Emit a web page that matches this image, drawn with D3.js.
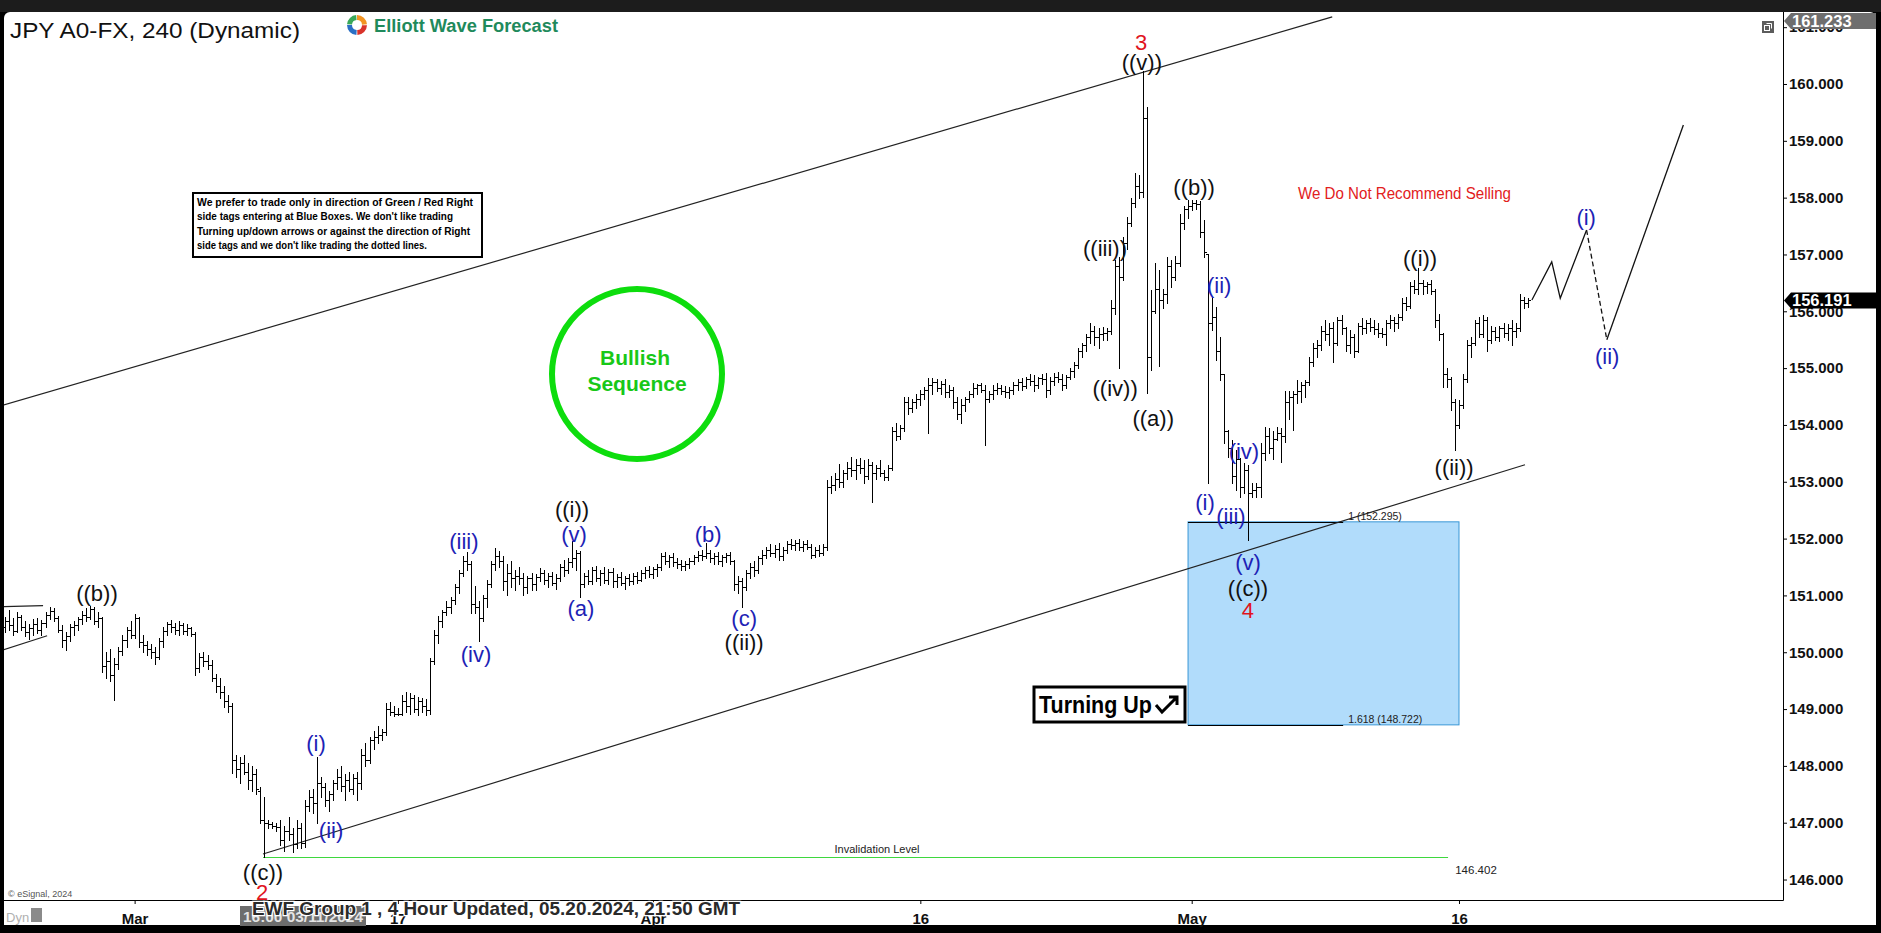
<!DOCTYPE html>
<html><head><meta charset="utf-8">
<script src="https://cdn.jsdelivr.net/npm/d3@7"></script>
<style>
html,body{margin:0;padding:0;background:#000;overflow:hidden}
svg{display:block}
text{font-family:"Liberation Sans",Arial,sans-serif}
</style></head><body>
<svg id="c" width="1881" height="933"></svg>
<script>
// ---------- DATA ----------
// 4-hour bars: [open, high, low, close]
const priceBars = [
[150.45,150.62,150.36,150.55],[150.55,150.74,150.40,150.48],[150.48,150.60,150.30,150.38],[150.38,150.70,150.35,150.62],
[150.62,150.66,150.40,150.45],[150.45,150.55,150.28,150.35],[150.35,150.50,150.24,150.42],[150.42,150.58,150.30,150.50],
[150.50,150.60,150.34,150.40],[150.40,150.56,150.30,150.52],[150.52,150.70,150.45,150.66],[150.66,150.80,150.58,150.72],
[150.72,150.77,150.55,150.60],[150.60,150.64,150.35,150.40],[150.40,150.48,150.10,150.22],[150.22,150.35,150.04,150.28],
[150.28,150.50,150.20,150.44],[150.44,150.55,150.30,150.48],[150.48,150.62,150.40,150.58],[150.58,150.72,150.50,150.66],
[150.66,150.78,150.55,150.62],[150.62,150.82,150.58,150.76],[150.76,150.80,150.50,150.55],[150.55,150.70,150.45,150.60],
[150.60,150.62,149.66,149.75],[149.75,150.00,149.55,149.85],[149.85,150.05,149.50,149.60],[149.60,149.90,149.16,149.80],
[149.80,150.10,149.70,150.02],[150.02,150.30,149.95,150.22],[150.22,150.45,150.10,150.40],[150.40,150.55,150.25,150.30],
[150.30,150.68,150.25,150.60],[150.60,150.62,150.10,150.18],[150.18,150.30,150.00,150.12],[150.12,150.20,149.95,150.05],
[150.05,150.15,149.90,150.00],[150.00,150.10,149.80,149.92],[149.92,150.25,149.88,150.20],[150.20,150.45,150.10,150.38],
[150.38,150.54,150.30,150.50],[150.50,150.56,150.35,150.45],[150.45,150.52,150.32,150.40],[150.40,150.55,150.30,150.48],
[150.48,150.52,150.32,150.38],[150.38,150.50,150.30,150.42],[150.42,150.45,150.28,150.32],[150.32,150.35,149.60,149.72],
[149.72,149.98,149.65,149.92],[149.92,150.00,149.75,149.85],[149.85,149.95,149.70,149.78],[149.78,149.86,149.50,149.55],
[149.55,149.62,149.30,149.40],[149.40,149.55,149.20,149.30],[149.30,149.40,149.04,149.15],[149.15,149.25,148.95,149.05],
[149.05,149.10,147.87,148.10],[148.10,148.20,147.80,147.95],[147.95,148.15,147.70,148.05],[148.05,148.20,147.85,147.90],
[147.90,148.05,147.60,147.75],[147.75,148.00,147.55,147.85],[147.85,147.95,147.50,147.60],[147.55,147.62,147.00,147.05],
[147.05,147.45,146.40,147.00],[147.00,147.05,146.90,146.98],[146.98,147.02,146.90,146.95],[146.95,147.00,146.85,146.92],
[146.92,147.05,146.60,146.70],[146.70,146.95,146.50,146.85],[146.85,147.10,146.70,146.80],[146.80,146.90,146.48,146.62],
[146.62,147.05,146.55,146.90],[146.90,147.00,146.55,146.65],[146.65,147.40,146.58,147.30],[147.30,147.57,147.20,147.45],
[147.45,147.60,147.17,147.35],[147.35,148.15,147.00,147.70],[147.70,147.80,147.45,147.62],[147.62,147.70,147.30,147.40],
[147.40,147.55,147.20,147.50],[147.50,147.75,147.40,147.70],[147.70,147.95,147.60,147.80],[147.80,148.00,147.55,147.65],
[147.65,147.85,147.40,147.75],[147.75,147.90,147.55,147.60],[147.60,147.85,147.50,147.78],[147.78,147.90,147.40,147.70],
[147.70,148.30,147.60,148.20],[148.20,148.40,148.00,148.10],[148.10,148.50,148.05,148.45],[148.45,148.62,148.30,148.50],
[148.50,148.70,148.40,148.55],[148.55,148.65,148.45,148.60],[148.60,149.10,148.55,149.00],[149.00,149.13,148.90,148.95],
[148.95,149.05,148.88,148.92],[148.92,149.02,148.90,148.92],[148.92,149.25,148.90,149.15],[149.15,149.30,148.95,149.05],
[149.05,149.28,148.92,149.20],[149.20,149.25,148.95,149.00],[149.00,149.22,148.90,149.15],[149.15,149.20,148.95,149.05],
[149.05,149.18,148.90,148.98],[148.98,149.90,148.92,149.85],[149.85,150.40,149.80,150.30],[150.30,150.63,150.16,150.55],
[150.55,150.75,150.45,150.70],[150.70,150.90,150.65,150.80],[150.80,150.98,150.69,150.92],[150.92,151.20,150.85,151.15],
[151.15,151.45,151.05,151.40],[151.40,151.70,151.35,151.60],[151.60,151.77,151.45,151.55],[151.55,151.60,150.69,150.85],
[150.85,151.16,150.69,150.80],[150.80,150.90,150.20,150.60],[150.60,151.00,150.55,150.95],[150.95,151.27,150.80,151.20],
[151.20,151.60,151.15,151.55],[151.55,151.83,151.45,151.70],[151.70,151.78,151.50,151.60],[151.60,151.70,151.10,151.25],
[151.25,151.55,151.00,151.40],[151.40,151.60,151.15,151.30],[151.30,151.45,151.10,151.35],[151.35,151.50,151.20,151.30],
[151.30,151.40,151.00,151.15],[151.15,151.35,151.05,151.30],[151.30,151.40,151.10,151.20],[151.20,151.38,151.10,151.32],
[151.32,151.48,151.25,151.40],[151.40,151.45,151.20,151.28],[151.28,151.40,151.15,151.35],[151.35,151.42,151.18,151.22],
[151.22,151.38,151.12,151.30],[151.30,151.55,151.25,151.50],[151.50,151.62,151.35,151.45],[151.45,151.65,151.40,151.58],
[151.58,151.95,151.50,151.65],[151.65,151.80,151.45,151.75],[151.75,151.78,150.98,151.20],[151.20,151.40,151.15,151.35],
[151.35,151.45,151.20,151.25],[151.25,151.50,151.20,151.45],[151.45,151.52,151.25,151.30],[151.30,151.45,151.18,151.40],
[151.40,151.50,151.22,151.28],[151.28,151.46,151.20,151.42],[151.42,151.48,151.15,151.25],[151.25,151.38,151.15,151.32],
[151.32,151.42,151.18,151.22],[151.22,151.35,151.12,151.30],[151.30,151.38,151.18,151.25],[151.25,151.40,151.20,151.35],
[151.35,151.42,151.22,151.28],[151.28,151.45,151.25,151.40],[151.40,151.50,151.30,151.45],[151.45,151.52,151.32,151.38],
[151.38,151.50,151.30,151.46],[151.46,151.55,151.35,151.50],[151.50,151.74,151.45,151.70],[151.70,151.76,151.55,151.60],
[151.60,151.72,151.50,151.68],[151.68,151.74,151.52,151.58],[151.58,151.66,151.48,151.55],[151.55,151.62,151.45,151.52],
[151.52,151.60,151.45,151.55],[151.55,151.65,151.48,151.60],[151.60,151.72,151.55,151.68],[151.68,151.78,151.60,151.72],
[151.72,151.80,151.62,151.70],[151.70,151.92,151.65,151.75],[151.75,151.80,151.58,151.65],[151.65,151.75,151.55,151.70],
[151.70,151.76,151.55,151.60],[151.60,151.72,151.52,151.68],[151.68,151.75,151.58,151.72],[151.72,151.77,151.55,151.60],
[151.60,151.62,151.10,151.20],[151.20,151.35,151.05,151.25],[151.25,151.30,150.80,151.15],[151.15,151.45,151.10,151.40],
[151.40,151.57,151.30,151.50],[151.50,151.60,151.35,151.45],[151.45,151.70,151.40,151.65],[151.65,151.80,151.55,151.72],
[151.72,151.85,151.65,151.80],[151.80,151.90,151.70,151.75],[151.75,151.88,151.68,151.82],[151.82,151.92,151.62,151.70],
[151.70,151.85,151.62,151.80],[151.80,151.95,151.75,151.90],[151.90,152.00,151.82,151.88],[151.88,151.98,151.80,151.92],
[151.92,152.00,151.80,151.85],[151.85,151.95,151.78,151.90],[151.90,151.98,151.82,151.86],[151.86,151.90,151.65,151.72],
[151.72,151.85,151.68,151.80],[151.80,151.88,151.70,151.75],[151.75,151.90,151.72,151.85],[151.85,153.03,151.80,152.90],
[152.90,153.10,152.80,152.95],[152.95,153.15,152.85,153.05],[153.05,153.32,152.90,153.00],[153.00,153.20,152.90,153.15],
[153.15,153.35,153.05,153.25],[153.25,153.44,153.10,153.20],[153.20,153.40,153.05,153.30],[153.30,153.42,153.15,153.25],
[153.25,153.38,152.97,153.10],[153.10,153.40,153.05,153.30],[153.30,153.35,152.65,153.15],[153.15,153.30,153.05,153.25],
[153.25,153.38,153.10,153.15],[153.15,153.20,153.03,153.08],[153.08,153.30,153.03,153.25],[153.25,153.97,153.20,153.90],
[153.90,154.03,153.74,153.80],[153.80,154.00,153.75,153.95],[153.95,154.50,153.90,154.40],[154.40,154.50,154.20,154.30],
[154.30,154.45,154.22,154.40],[154.40,154.55,154.30,154.45],[154.45,154.62,154.35,154.55],[154.55,154.67,154.45,154.62],
[154.62,154.82,153.85,154.70],[154.70,154.82,154.55,154.75],[154.75,154.80,154.60,154.65],[154.65,154.78,154.55,154.72],
[154.72,154.80,154.50,154.58],[154.58,154.70,154.50,154.62],[154.62,154.66,154.30,154.40],[154.40,154.50,154.10,154.20],
[154.20,154.45,154.03,154.35],[154.35,154.50,154.25,154.45],[154.45,154.60,154.40,154.55],[154.55,154.73,154.50,154.65],
[154.65,154.72,154.55,154.70],[154.70,154.73,154.58,154.62],[154.62,154.70,153.65,154.45],[154.45,154.60,154.40,154.55],
[154.55,154.70,154.45,154.62],[154.62,154.73,154.55,154.65],[154.65,154.70,154.55,154.60],[154.60,154.68,154.50,154.58],
[154.58,154.66,154.48,154.62],[154.62,154.75,154.55,154.70],[154.70,154.80,154.62,154.75],[154.75,154.82,154.62,154.68],
[154.68,154.85,154.65,154.80],[154.80,154.90,154.70,154.78],[154.78,154.88,154.60,154.70],[154.70,154.85,154.65,154.82],
[154.82,154.90,154.72,154.80],[154.80,154.92,154.50,154.62],[154.62,154.85,154.55,154.78],[154.78,154.92,154.70,154.85],
[154.85,154.94,154.75,154.80],[154.80,154.90,154.62,154.70],[154.70,154.88,154.65,154.85],[154.85,155.00,154.80,154.95],
[154.95,155.10,154.85,155.05],[155.05,155.35,155.00,155.30],[155.30,155.45,155.20,155.40],[155.40,155.60,155.30,155.55],
[155.55,155.79,155.45,155.65],[155.65,155.75,155.40,155.55],[155.55,155.70,155.35,155.60],[155.60,155.72,155.50,155.62],
[155.62,155.70,155.50,155.65],[155.65,156.20,155.60,156.05],[156.05,156.90,155.95,156.80],[156.80,156.95,155.00,156.60],
[156.60,157.30,156.55,157.20],[157.20,157.66,157.10,157.55],[157.55,158.00,157.50,157.90],[157.90,158.43,157.84,158.20],
[158.20,158.40,158.00,158.10],[158.10,160.22,158.02,159.40],[159.40,159.60,154.56,155.20],[155.20,156.38,154.97,156.00],
[156.00,156.85,155.97,156.40],[156.40,156.73,155.03,156.20],[156.20,156.40,156.05,156.30],[156.30,156.96,156.14,156.80],
[156.80,156.90,156.43,156.60],[156.60,156.97,156.55,156.85],[156.85,157.72,156.80,157.55],[157.55,157.85,157.45,157.80],
[157.80,157.95,157.65,157.85],[157.85,157.96,157.78,157.90],[157.90,157.96,157.80,157.88],[157.88,157.94,157.30,157.40],
[157.40,157.60,156.96,157.05],[157.00,157.00,152.97,155.80],[155.80,156.26,155.67,155.90],[155.90,156.08,155.14,155.30],
[155.30,155.55,154.79,154.90],[154.90,154.90,153.68,153.90],[153.90,153.91,153.44,153.60],[153.60,153.74,152.97,153.10],
[153.10,153.56,152.86,153.40],[153.40,153.42,152.74,152.90],[152.90,153.33,152.80,153.20],[153.20,153.30,151.98,152.80],
[152.80,152.97,152.74,152.85],[152.85,152.97,152.74,152.90],[152.90,153.68,152.74,153.50],[153.50,153.97,153.38,153.80],
[153.80,153.95,153.50,153.60],[153.60,153.90,153.40,153.75],[153.75,153.97,153.74,153.85],[153.85,153.95,153.35,153.80],
[153.80,154.60,153.70,154.40],[154.40,154.60,154.10,154.50],[154.50,154.60,153.91,154.55],[154.55,154.79,154.38,154.60],
[154.60,154.75,154.40,154.70],[154.70,154.79,154.50,154.75],[154.75,155.20,154.70,155.10],[155.10,155.44,155.03,155.35],
[155.35,155.50,155.20,155.40],[155.40,155.75,155.32,155.65],[155.65,155.85,155.50,155.60],[155.60,155.80,155.40,155.70],
[155.70,155.82,155.10,155.45],[155.45,155.90,155.40,155.85],[155.85,155.93,155.60,155.70],[155.70,155.72,155.30,155.40],
[155.40,155.67,155.26,155.55],[155.55,155.60,155.20,155.30],[155.30,155.80,155.28,155.75],[155.75,155.88,155.60,155.70],
[155.70,155.85,155.62,155.80],[155.80,155.88,155.65,155.72],[155.72,155.85,155.60,155.68],[155.68,155.80,155.55,155.62],
[155.62,155.70,155.55,155.60],[155.60,155.85,155.40,155.80],[155.80,155.93,155.70,155.85],[155.85,155.90,155.65,155.80],
[155.80,155.96,155.70,155.90],[155.90,156.23,155.85,156.15],[156.15,156.25,156.02,156.10],[156.10,156.52,156.05,156.45],
[156.45,156.55,156.32,156.40],[156.40,156.76,156.30,156.50],[156.50,156.55,156.30,156.45],[156.45,156.52,156.32,156.48],
[156.48,156.55,156.30,156.35],[156.35,156.40,155.73,155.85],[155.85,155.95,155.50,155.60],[155.60,155.62,154.67,154.90],
[154.90,155.00,154.67,154.80],[154.80,154.85,154.26,154.40],[154.40,154.45,153.56,154.00],[154.00,154.44,153.95,154.35],
[154.35,154.90,154.30,154.80],[154.80,155.50,154.75,155.40],[155.40,155.55,155.20,155.45],[155.45,155.85,155.40,155.80],
[155.80,155.90,155.55,155.60],[155.60,155.93,155.55,155.85],[155.85,155.90,155.30,155.50],[155.50,155.75,155.45,155.65],
[155.65,155.72,155.50,155.55],[155.55,155.75,155.48,155.70],[155.70,155.79,155.55,155.62],[155.62,155.78,155.50,155.70],
[155.70,155.85,155.40,155.65],[155.65,155.80,155.55,155.70],[155.70,156.30,155.65,156.20],[156.20,156.26,156.05,156.15],
[156.15,156.24,156.08,156.19]
];
const yTicks = [146,147,148,149,150,151,152,153,154,155,156,157,158,159,160,161];
const xTickBars = [32,97,160,226,293,359];
const xTickLabels = ["Mar","17","Apr","16","May","16"];
// wave labels: [text, bar index, price, colour key]
const waveLabels = [
["((b))",22.7,151.04,"k"],["((c))",63.7,146.13,"k"],["2",63.5,145.78,"r"],
["(i)",76.8,148.40,"b"],["(ii)",80.5,146.87,"b"],["(iii)",113.3,151.96,"b"],["(iv)",116.3,149.97,"b"],
["((i))",140,152.52,"k"],["(v)",140.5,152.08,"b"],["(a)",142.2,150.78,"b"],["(b)",173.6,152.08,"b"],
["(c)",182.5,150.60,"b"],["((ii))",182.5,150.18,"k"],
["((iii))",271.6,157.11,"k"],["((iv))",274.1,154.65,"k"],["((v))",280.7,160.39,"k"],["3",280.5,160.74,"r"],
["((a))",283.5,154.12,"k"],["((b))",293.6,158.19,"k"],
["(i)",296.3,152.64,"b"],["(ii)",299.8,156.45,"b"],["(iii)",302.7,152.40,"b"],["(iv)",305.9,153.54,"b"],
["(v)",306.9,151.59,"b"],["((c))",306.9,151.13,"k"],["4",306.9,150.74,"r"],
["((i))",349.4,156.94,"k"],["((ii))",357.8,153.26,"k"],
["(i)",390.4,157.66,"b"],["(ii)",395.6,155.21,"b"]
];
const channelUpper = [[-1.3,154.33],[327.7,161.18]];
const channelLower = [[63.7,146.45],[375.3,153.30]];
const triangleUpper = [[-1.3,150.80],[9.4,150.82]];
const triangleLower = [[-1.3,150.02],[10.4,150.29]];
const invalidationLevel = 146.402;
const invalidationSpan = [63.7,356.3];
const blueBoxBars = [292.1,359];
const fibLevels = [152.295,148.722];
const fibLabels = ["1 (152.295)","1.618 (148.722)"];
const fibLineEnd = 330.4;
const projectionSolid = [[377,156.20],[381.9,156.87],[384,156.23],[390.5,157.43]];
const projectionDashed = [[390.5,157.43],[395.5,155.50]];
const projectionFinal = [[395.5,155.50],[414.4,159.28]];
const lastPrice = 156.191, highPrice = 161.233;
const noteLines = ["We prefer to trade only in direction of Green / Red Right",
 "side tags entering at Blue Boxes. We don't like trading",
 "Turning up/down arrows or against the direction of Right",
 "side tags and we don't like trading the dotted lines."];

// ---------- LAYOUT ----------
const L=4,R=1783,T=12,B=900;
const svg=d3.select("#c");
const x=d3.scaleLinear().domain([-0.25,439]).range([L,R]);
const y=d3.scaleLinear().domain([145.64,161.267]).range([B,T]);
const col={k:"#111",b:"#1d22b5",r:"#e0141e"};

svg.append("rect").attr("width",1881).attr("height",933).attr("fill","#000");
svg.append("rect").attr("x",0).attr("y",0).attr("width",1881).attr("height",12).attr("fill","#1c1c1c");
svg.append("rect").attr("x",L).attr("y",T).attr("width",1876-L).attr("height",925-T).attr("rx",6).attr("fill","#fff");
svg.append("rect").attr("x",L).attr("y",T+10).attr("width",1876-L).attr("height",925-T-10).attr("fill","#fff");

svg.append("defs").append("clipPath").attr("id","clip").append("rect")
  .attr("x",L).attr("y",T).attr("width",R-L).attr("height",B-T);
const plot=svg.append("g").attr("clip-path","url(#clip)");

// note box
const nb=plot.append("g");
nb.append("rect").attr("x",193).attr("y",193).attr("width",289).attr("height",64).attr("fill","#fff").attr("stroke","#000").attr("stroke-width",2);
const noteLen=[276,256,273,230];
nb.selectAll("text").data(noteLines).join("text")
  .attr("x",197).attr("y",(d,i)=>206+i*14.4).attr("font-size",11.5).attr("font-weight","bold")
  .attr("textLength",(d,i)=>noteLen[i]).attr("lengthAdjust","spacingAndGlyphs").text(d=>d);

// bullish circle
plot.append("circle").attr("cx",637).attr("cy",374).attr("r",85).attr("fill","none").attr("stroke","#0ddd0d").attr("stroke-width",6);
plot.append("text").attr("x",635).attr("y",365).attr("text-anchor","middle").attr("font-size",21).attr("font-weight","bold").attr("fill","#18c818").text("Bullish");
plot.append("text").attr("x",637).attr("y",391).attr("text-anchor","middle").attr("font-size",21).attr("font-weight","bold").attr("fill","#18c818").text("Sequence");

// blue box
const bx0=x(blueBoxBars[0]), bx1=x(blueBoxBars[1]);
plot.append("rect").attr("x",bx0).attr("y",y(fibLevels[0])).attr("width",bx1-bx0).attr("height",y(fibLevels[1])-y(fibLevels[0]))
  .attr("fill","#b1dcfb").attr("stroke","#3a97d6").attr("stroke-width",1);
fibLevels.forEach((p,i)=>{
  plot.append("line").attr("x1",bx0).attr("x2",x(fibLineEnd)).attr("y1",Math.round(y(p))+0.5).attr("y2",Math.round(y(p))+0.5).attr("stroke","#000").attr("stroke-width",1.2);
  plot.append("text").attr("x",x(fibLineEnd)+5).attr("y",y(p)-2).attr("font-family","DejaVu Sans").attr("font-size",10.5).attr("fill","#222").text(fibLabels[i]);
});

// invalidation
const iy=Math.round(y(invalidationLevel))+0.5;
plot.append("line").attr("x1",x(invalidationSpan[0])).attr("x2",x(invalidationSpan[1])).attr("y1",iy).attr("y2",iy).attr("stroke","#3ed83e").attr("stroke-width",1.2);
plot.append("text").attr("x",877).attr("y",iy-5).attr("text-anchor","middle").attr("font-family","DejaVu Sans").attr("font-size",11).attr("fill","#222").text("Invalidation Level");
plot.append("text").attr("x",1476).attr("y",iy+16).attr("text-anchor","middle").attr("font-family","DejaVu Sans").attr("font-size",11.5).attr("fill","#222").text(invalidationLevel.toFixed(3));

// trendlines
const ln=d3.line().x(d=>x(d[0])).y(d=>y(d[1]));
[channelUpper,channelLower,triangleUpper,triangleLower].forEach(a=>
  plot.append("path").attr("d",ln(a)).attr("fill","none").attr("stroke","#222").attr("stroke-width",1.2));

// OHLC bars
plot.append("g").selectAll("path").data(priceBars).join("path")
  .attr("fill","none").attr("stroke","#000").attr("stroke-width",1)
  .attr("d",(d,i)=>{const cx=Math.round(x(i))+0.5;
    const yh=Math.round(y(d[1])), yl=Math.round(y(d[2]))+1, yo=Math.round(y(d[0]))+0.5, yc=Math.round(y(d[3]))+0.5;
    return `M${cx},${yh}V${Math.max(yl,yh+1)}M${cx-2.5},${yo}H${cx}M${cx},${yc}H${cx+2.5}`;});

// projection
plot.append("path").attr("d",ln(projectionSolid)).attr("fill","none").attr("stroke","#111").attr("stroke-width",1.3);
plot.append("path").attr("d",ln(projectionDashed)).attr("fill","none").attr("stroke","#111").attr("stroke-width",1.3).attr("stroke-dasharray","5,3");
plot.append("path").attr("d",ln(projectionFinal)).attr("fill","none").attr("stroke","#111").attr("stroke-width",1.3);

// wave labels
plot.append("g").selectAll("text").data(waveLabels).join("text")
  .attr("x",d=>x(d[1])).attr("y",d=>y(d[2])).attr("dy","0.35em").attr("text-anchor","middle")
  .attr("font-size",22).attr("fill",d=>col[d[3]]).text(d=>d[0]);

// red text
plot.append("text").attr("x",1298).attr("y",199).attr("font-size",16).attr("fill","#e2201c")
  .attr("textLength",213).attr("lengthAdjust","spacingAndGlyphs").text("We Do Not Recommend Selling");

// Turning Up box
plot.append("rect").attr("x",1034).attr("y",687).attr("width",151).attr("height",35).attr("fill","#fff").attr("stroke","#000").attr("stroke-width",3);
plot.append("text").attr("x",1039).attr("y",713).attr("font-size",24).attr("font-weight","bold").attr("textLength",113).attr("lengthAdjust","spacingAndGlyphs").text("Turning Up");
plot.append("path").attr("d","M1156,705L1162,712L1177,697M1169,697H1177V705").attr("fill","none").attr("stroke","#000").attr("stroke-width",3);

// ---------- AXES ----------
const ya=svg.append("g").attr("transform",`translate(${R},0)`)
  .call(d3.axisRight(y).tickValues(yTicks).tickFormat(d3.format(".3f")).tickSize(4).tickPadding(2));
ya.select(".domain").remove();
ya.selectAll("text").attr("font-size",15).attr("font-weight","bold").attr("fill","#111").attr("font-family","Liberation Sans,Arial");
ya.selectAll("line").attr("stroke","#000");
const xa=svg.append("g").attr("transform",`translate(0,${B})`)
  .call(d3.axisBottom(x).tickValues(xTickBars).tickFormat((d,i)=>xTickLabels[i]).tickSize(4).tickPadding(9));
xa.select(".domain").remove();
xa.selectAll("text").attr("font-size",15).attr("font-weight","bold").attr("fill","#111").attr("font-family","Liberation Sans,Arial");
xa.selectAll("line").attr("stroke","#000");
svg.append("line").attr("x1",R+0.5).attr("x2",R+0.5).attr("y1",T).attr("y2",B+0.5).attr("stroke","#000");
svg.append("line").attr("x1",L).attr("x2",R+0.5).attr("y1",B+0.5).attr("y2",B+0.5).attr("stroke","#000");

// price tags
function tag(p,fill){
  const yc=Math.max(y(p),T+9);
  const g=svg.append("g");
  g.append("path").attr("d",`M${R+1},${yc}L${R+8},${yc-8}H1876V${yc+8}H${R+8}Z`).attr("fill",fill);
  g.append("text").attr("x",R+9).attr("y",yc+6).attr("font-size",16.5).attr("font-weight","bold").attr("fill","#fff").text(p.toFixed(3));
}
tag(highPrice,"#6e6e6e");
tag(lastPrice,"#000");

// icon top right
svg.append("rect").attr("x",1762).attr("y",21).attr("width",12).attr("height",12).attr("fill","#5c5c5c");
svg.append("rect").attr("x",1764.5).attr("y",25.5).attr("width",5).attr("height",5).attr("fill","none").attr("stroke","#fff");
svg.append("path").attr("d","M1766.5,23.5H1771.5V28.5").attr("fill","none").attr("stroke","#fff");

// title & logo
svg.append("text").attr("x",10).attr("y",38).attr("font-size",22).attr("fill","#111").attr("textLength",290).attr("lengthAdjust","spacingAndGlyphs").text("JPY A0-FX, 240 (Dynamic)");
const lg=svg.append("g").attr("transform","translate(357,25)");
const arc=d3.arc().innerRadius(5).outerRadius(10);
[["#f29422",0,1.5],["#d9332b",1.6,3.1],["#2a6fc4",3.2,4.7],["#3aa859",4.8,6.2]].forEach(a=>
  lg.append("path").attr("d",arc({startAngle:a[1],endAngle:a[2]})).attr("fill",a[0]));
svg.append("text").attr("x",374).attr("y",32).attr("font-size",17.5).attr("font-weight","bold").attr("fill","#1f8a5c").attr("textLength",184).attr("lengthAdjust","spacingAndGlyphs").text("Elliott Wave Forecast");

// footer
svg.append("text").attr("x",8).attr("y",897).attr("font-size",9).attr("fill","#555").text("© eSignal, 2024");
svg.append("text").attr("x",6).attr("y",922).attr("font-size",13).attr("fill","#b0b0b0").text("Dyn");
svg.append("rect").attr("x",31).attr("y",908).attr("width",11).attr("height",14).attr("fill","#8a8a8a");
svg.append("rect").attr("x",240).attr("y",906).attr("width",126).attr("height",20).attr("fill","#6d6d6d");
svg.append("text").attr("x",243).attr("y",922).attr("font-size",15.5).attr("font-weight","bold").attr("fill","#e4e4e4").attr("textLength",120).attr("lengthAdjust","spacingAndGlyphs").text("16:00 03/11/2024");
svg.append("text").attr("x",252).attr("y",915).attr("font-size",19).attr("font-weight","bold").attr("fill","#2a2a2a")
  .attr("stroke","#fff").attr("stroke-width",2.5).attr("paint-order","stroke")
  .attr("textLength",488).attr("lengthAdjust","spacingAndGlyphs").text("EWF Group 1 , 4 Hour Updated, 05.20.2024, 21:50 GMT");
</script>
</body></html>
